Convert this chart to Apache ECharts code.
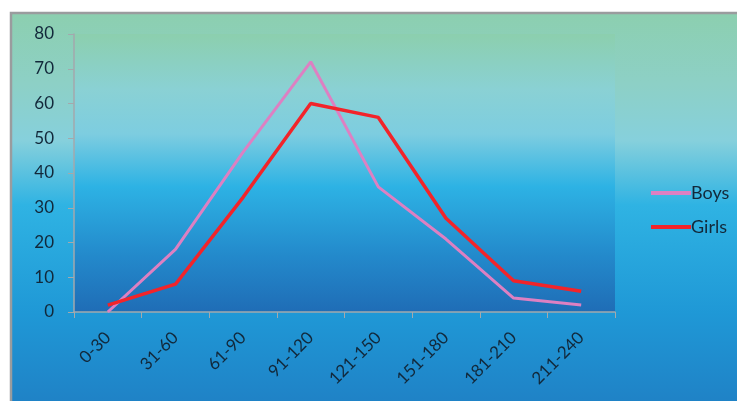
<!DOCTYPE html>
<html>
<head>
<meta charset="utf-8">
<script src="https://cdn.jsdelivr.net/npm/echarts@6/dist/echarts.min.js"></script>
<style>
  html, body { margin: 0; padding: 0; background: #ffffff; }
  #chart { width: 737px; height: 401px; }
</style>
</head>
<body>
<div id="chart"></div>
<script>
// Age bands (minutes) and counts per group
const categories = ['0-30', '31-60', '61-90', '91-120', '121-150', '151-180', '181-210', '211-240'];
const boys = [0, 18, 46, 72, 36, 21, 4, 2];
const girls = [2, 8, 33, 60, 56, 27, 9, 6];
const yTicks = { min: 0, max: 80, interval: 10 };

const chart = echarts.init(document.getElementById('chart'), null, { renderer: 'canvas' });

const textColor = '#12283a';
const axisGray = '#a3a9ad';
const font = 'Lato, "Open Sans", sans-serif';

chart.setOption({
  animation: false,
  backgroundColor: '#ffffff',
  graphic: [{
    type: 'rect',
    z: -10,
    silent: true,
    shape: { x: 11, y: 13, width: 740, height: 400 },
    style: {
      fill: new echarts.graphic.LinearGradient(0, 0, 0, 1, [
        { offset: 0.0, color: '#8ccfaf' },
        { offset: 0.18, color: '#8dd0c6' },
        { offset: 0.32, color: '#86d0dc' },
        { offset: 0.48, color: '#2fb3e3' },
        { offset: 0.75, color: '#1f98d6' },
        { offset: 1.0, color: '#1f7fc4' }
      ]),
      stroke: '#9a9c9e',
      lineWidth: 2.5
    }
  }],
  grid: {
    left: 74, top: 34, right: 122, bottom: 89,
    show: true,
    borderWidth: 0,
    backgroundColor: new echarts.graphic.LinearGradient(0, 0, 0, 1, [
      { offset: 0.0, color: '#8ccfae' },
      { offset: 0.2, color: '#8ad1d4' },
      { offset: 0.36, color: '#7dcde0' },
      { offset: 0.55, color: '#2db2e4' },
      { offset: 0.8, color: '#2389cb' },
      { offset: 1.0, color: '#1f6db6' }
    ])
  },
  legend: {
    orient: 'vertical',
    left: 646,
    top: 179,
    itemWidth: 40,
    itemHeight: 4,
    itemGap: 16,
    icon: 'rect',
    textStyle: { color: textColor, fontSize: 18, fontFamily: font, padding: [0, 0, 0, -5] },
    data: ['Boys', 'Girls']
  },
  xAxis: {
    type: 'category',
    data: categories,
    boundaryGap: true,
    axisLine: { lineStyle: { color: axisGray, width: 1.5 } },
    axisTick: { show: true, length: 6, lineStyle: { color: axisGray } },
    axisLabel: { rotate: 45, margin: 23, color: textColor, fontSize: 17, fontFamily: font }
  },
  yAxis: {
    type: 'value',
    min: yTicks.min, max: yTicks.max, interval: yTicks.interval,
    splitLine: { show: false },
    axisLine: { show: true, lineStyle: { color: axisGray, width: 1.5 } },
    axisTick: { show: true, length: 6, lineStyle: { color: axisGray } },
    axisLabel: { margin: 20, color: textColor, fontSize: 17, fontFamily: font }
  },
  series: [
    {
      name: 'Boys', type: 'line', data: boys,
      symbol: 'none',
      lineStyle: { color: '#dd80c2', width: 3 },
      itemStyle: { color: '#dd80c2' }
    },
    {
      name: 'Girls', type: 'line', data: girls,
      symbol: 'none',
      lineStyle: { color: '#f2242a', width: 3.5 },
      itemStyle: { color: '#f2242a' }
    }
  ]
});
</script>
</body>
</html>
